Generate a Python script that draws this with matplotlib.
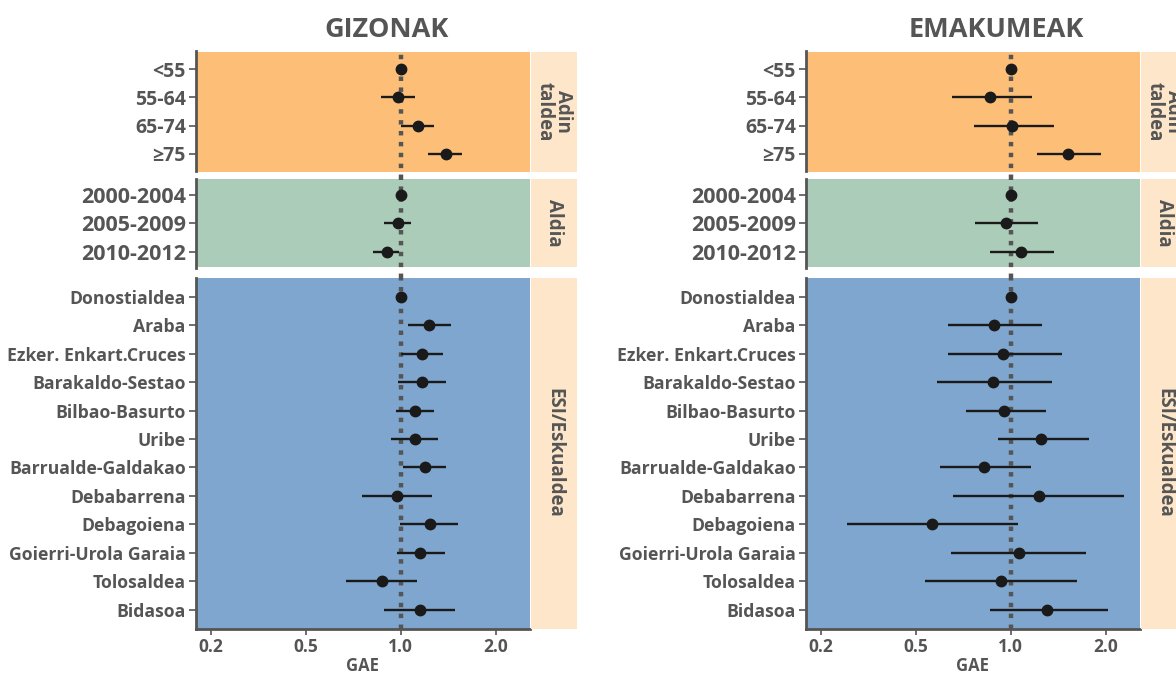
import matplotlib
matplotlib.use("Agg")
import matplotlib.pyplot as plt
import numpy as np

plt.rcParams['font.family'] = ['Open Sans', 'DejaVu Sans']
plt.rcParams['font.weight'] = 'bold'

# ---- data (GAE with 95% CI) ----
adin_labels = ['<55', '55-64', '65-74', '≥75']
aldia_labels = ['2000-2004', '2005-2009', '2010-2012']
esi_labels = ['Donostialdea', 'Araba', 'Ezker. Enkart.Cruces', 'Barakaldo-Sestao',
              'Bilbao-Basurto', 'Uribe', 'Barrualde-Galdakao', 'Debabarrena',
              'Debagoiena', 'Goierri-Urola Garaia', 'Tolosaldea', 'Bidasoa']

# gizonak
giz_adin_est = [1.0, 0.98, 1.135, 1.39]
giz_adin_lo = [1.0, 0.866, 1.0, 1.224]
giz_adin_hi = [1.0, 1.108, 1.278, 1.564]
giz_aldia_est = [1.0, 0.98, 0.903]
giz_aldia_lo = [1.0, 0.885, 0.815]
giz_aldia_hi = [1.0, 1.078, 0.99]
giz_esi_est = [1.0, 1.233, 1.168, 1.168, 1.11, 1.107, 1.191, 0.976, 1.242, 1.154, 0.871, 1.151]
giz_esi_lo = [1.0, 1.057, 1.0, 0.978, 0.967, 0.93, 1.015, 0.752, 0.995, 0.971, 0.673, 0.888]
giz_esi_hi = [1.0, 1.44, 1.365, 1.389, 1.278, 1.316, 1.392, 1.257, 1.516, 1.382, 1.124, 1.483]

# emakumeak
ema_adin_est = [1.0, 0.862, 1.012, 1.523]
ema_adin_lo = [1.0, 0.652, 0.763, 1.209]
ema_adin_hi = [1.0, 1.166, 1.369, 1.928]
ema_aldia_est = [1.0, 0.969, 1.081]
ema_aldia_lo = [1.0, 0.769, 0.858]
ema_aldia_hi = [1.0, 1.224, 1.369]
ema_esi_est = [1.0, 0.888, 0.948, 0.879, 0.955, 1.251, 0.821, 1.229, 0.565, 1.06, 0.934, 1.3]
ema_esi_lo = [1.0, 0.634, 0.631, 0.584, 0.72, 0.91, 0.598, 0.657, 0.302, 0.649, 0.535, 0.86]
ema_esi_hi = [1.0, 1.257, 1.458, 1.349, 1.291, 1.767, 1.16, 2.291, 1.052, 1.728, 1.627, 2.029]

x_breaks = [0.25, 0.5, 1.0, 2.0]
x_labels = ['0.2', '0.5', '1.0', '2.0']

W, H = 1176, 673
fig = plt.figure(figsize=(W / 100, H / 100), dpi=100)

grey = '#555555'


def rect(x0, y0, x1, y1):
    return [x0 / W, 1 - y1 / H, (x1 - x0) / W, (y1 - y0) / H]


# facet rows: (labels, bg colour, strip text, top px, bottom px, pad, label size)
facets = [
    (adin_labels, '#FDBF77', 'Adin\ntaldea', 51.5, 171.5, 0.62, 14),
    (aldia_labels, '#ABCCB9', 'Aldia', 179, 267.5, 0.56, 15.5),
    (esi_labels, '#7FA6CE', 'ESI/Eskualdea', 278, 628.5, 0.66, 12.7),
]

genders = [
    ('GIZONAK', 195.5, 529.5, [(giz_adin_est, giz_adin_lo, giz_adin_hi),
                               (giz_aldia_est, giz_aldia_lo, giz_aldia_hi),
                               (giz_esi_est, giz_esi_lo, giz_esi_hi)]),
    ('EMAKUMEAK', 805.5, 1139.5, [(ema_adin_est, ema_adin_lo, ema_adin_hi),
                                  (ema_aldia_est, ema_aldia_lo, ema_aldia_hi),
                                  (ema_esi_est, ema_esi_lo, ema_esi_hi)]),
]

for title, x0, x1, series in genders:
    for i, (labels, bg, strip_txt, top, bot, pad, lsize) in enumerate(facets):
        est, lo, hi = series[i]
        n = len(labels)
        ax = fig.add_axes(rect(x0, top, x1, bot))
        ax.set_facecolor(bg)
        ax.set_xscale('log')
        ax.set_xlim(0.2237, 2.56)
        ax.set_ylim(n - 1 + pad, -pad)
        yy = np.arange(n)

        # dotted reference line, runs on through the white gap below
        gap = 0
        if i < 2:
            gap = (facets[i + 1][3] - bot) / (bot - top)
        ax.axvline(1.0, ymin=-gap, ymax=1, color=grey, lw=3.2,
                   dashes=(1, 1.45), clip_on=False, zorder=2)

        ax.hlines(yy, lo, hi, color='#1a1a1a', lw=1.7, zorder=3)
        ax.plot(est, yy, 'o', color='#1a1a1a', ms=7.5, zorder=4)

        ax.set_yticks(yy)
        ax.set_yticklabels(labels, fontsize=lsize, color=grey, fontweight='bold')
        ax.tick_params(axis='y', length=5, width=1.2, color=grey, pad=2)
        ax.minorticks_off()
        for s in ['top', 'right']:
            ax.spines[s].set_visible(False)
        ax.spines['left'].set_color(grey)
        ax.spines['left'].set_linewidth(2)
        if i < 2:
            ax.spines['bottom'].set_visible(False)
            ax.set_xticks([])
        else:
            ax.spines['bottom'].set_color(grey)
            ax.spines['bottom'].set_linewidth(2)
            ax.set_xticks(x_breaks)
            ax.set_xticklabels(x_labels, fontsize=12.5, color=grey, fontweight='bold')
            ax.tick_params(axis='x', length=4, width=1.2, color=grey, pad=3)

        # facet strip on the right
        sx = fig.add_axes(rect(x1 + 1.5, top, x1 + 47.5, bot))
        sx.set_facecolor('#FDE6C9')
        sx.set_xticks([])
        sx.set_yticks([])
        for s in sx.spines.values():
            s.set_visible(False)
        sx.text(0.5, 0.5, strip_txt, rotation=-90, ha='center', va='center',
                fontsize=13.5, color=grey, fontweight='bold', linespacing=0.85,
                transform=sx.transAxes)

    fig.text((x0 + x1) / 2 / W, 1 - 666 / H, 'GAE', ha='center', va='center',
             fontsize=12, color=grey, fontweight='bold')
    fig.text((x0 + x1 + 48) / 2 / W, 1 - 30 / H, title, ha='center', va='center',
             fontsize=19.5, color=grey, fontweight='bold')

fig.savefig('out.png', dpi=100)
